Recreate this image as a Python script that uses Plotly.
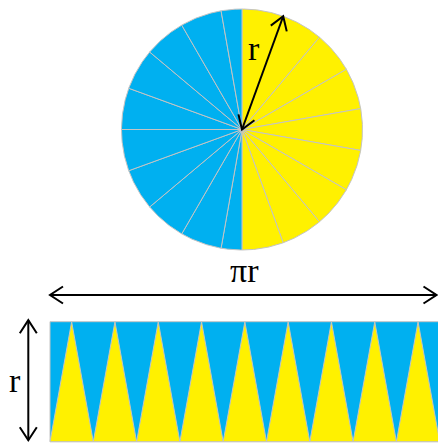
import numpy as np
import plotly.graph_objects as go

# ---------------- data ----------------
N_SECTORS = 18                                  # equal slices of the circle
YELLOW_SLICES = [20] * 9                        # degrees, right half
BLUE_SLICES = [10] + [20] * 8 + [10]            # degrees, left half (offset by half a slice)
HALF_NAMES = ["yellow", "blue"]
RADIUS_LABEL = "r"
HALF_CIRC_LABEL = "πr"
STRIP_TRIANGLES = 9                             # yellow triangles in the rectangle

# ---------------- layout / style ----------------
W, H = 438, 443
BLUE = "#00B0F0"
YELLOW = "#FFF100"
EDGE = "#C4C4C4"
CX, CY, R = 242.0, 129.5, 120.5                 # circle centre / radius (px)
RECT_X0, RECT_Y0, RECT_H = 50.0, 441.7, 120.0   # rectangle bottom-left, height (px)
BASE = 43.3                                     # triangle base (px)
HEAD_L, HEAD_W = 13.0, 8.5
FONT = dict(family="Liberation Serif, Times New Roman, serif", size=34, color="black")

fig = go.Figure()

# ---- circle sectors ----
angles = []
a = 0.0
for v, name in [(v, HALF_NAMES[0]) for v in YELLOW_SLICES] + [(v, HALF_NAMES[1]) for v in BLUE_SLICES]:
    angles.append((a, a + v, name))
    a += v

for a0, a1, name in angles:
    th = np.radians(np.linspace(a0, a1, 30))
    xs = np.concatenate([[CX], CX + R * np.sin(th), [CX]])
    ys = np.concatenate([[CY], CY - R * np.cos(th), [CY]])
    fig.add_trace(go.Scatter(x=xs, y=ys, mode="lines", fill="toself",
                             fillcolor=YELLOW if name == "yellow" else BLUE,
                             line=dict(color=EDGE, width=1), hoverinfo="skip"))

# ---- rectangle strip ----
rect_w = STRIP_TRIANGLES * BASE
fig.add_trace(go.Scatter(
    x=[RECT_X0, RECT_X0 + rect_w, RECT_X0 + rect_w, RECT_X0, RECT_X0],
    y=[RECT_Y0, RECT_Y0, RECT_Y0 - RECT_H, RECT_Y0 - RECT_H, RECT_Y0],
    mode="lines", fill="toself", fillcolor=BLUE, line=dict(color=EDGE, width=1),
    hoverinfo="skip"))
for i in range(STRIP_TRIANGLES):
    xl = RECT_X0 + i * BASE
    fig.add_trace(go.Scatter(
        x=[xl, xl + BASE / 2, xl + BASE, xl],
        y=[RECT_Y0, RECT_Y0 - RECT_H, RECT_Y0, RECT_Y0],
        mode="lines", fill="toself", fillcolor=YELLOW, line=dict(color=EDGE, width=1),
        hoverinfo="skip"))


# ---- double arrows ----
def double_arrow(x0, y0, x1, y1):
    d = np.array([x1 - x0, y1 - y0], dtype=float)
    d /= np.linalg.norm(d)
    n = np.array([-d[1], d[0]])
    xs, ys = [x0, x1, None], [y0, y1, None]
    for tip, sgn in [((x1, y1), 1), ((x0, y0), -1)]:
        t = np.array(tip)
        back = t - sgn * HEAD_L * d
        p1, p2 = back + HEAD_W * n, back - HEAD_W * n
        xs += [p1[0], t[0], p2[0], None]
        ys += [p1[1], t[1], p2[1], None]
    fig.add_trace(go.Scatter(x=xs, y=ys, mode="lines",
                             line=dict(color="black", width=2), hoverinfo="skip"))


th = np.radians(YELLOW_SLICES[0])
double_arrow(CX, CY, CX + R * np.sin(th), CY - R * np.cos(th))
double_arrow(RECT_X0, 295, W - 1.5, 295)
double_arrow(28.3, RECT_Y0 - RECT_H - 1.5, 28.3, RECT_Y0 - 1.5)

# ---- labels ----
fig.add_annotation(x=253.5, y=48, text=RADIUS_LABEL, showarrow=False, font=FONT)
fig.add_annotation(x=244.5, y=270, text=HALF_CIRC_LABEL, showarrow=False, font=FONT)
fig.add_annotation(x=14.7, y=380, text=RADIUS_LABEL, showarrow=False, font=FONT)

fig.update_layout(
    width=W, height=H, margin=dict(l=0, r=0, t=0, b=0),
    paper_bgcolor="white", plot_bgcolor="white", showlegend=False,
    xaxis=dict(range=[0, W], visible=False, fixedrange=True),
    yaxis=dict(range=[H, 0], visible=False, fixedrange=True),
)
fig.write_html("out.html", config={"displayModeBar": False, "staticPlot": True},
               post_script="document.body.style.margin='0';document.body.style.overflow='hidden';")
